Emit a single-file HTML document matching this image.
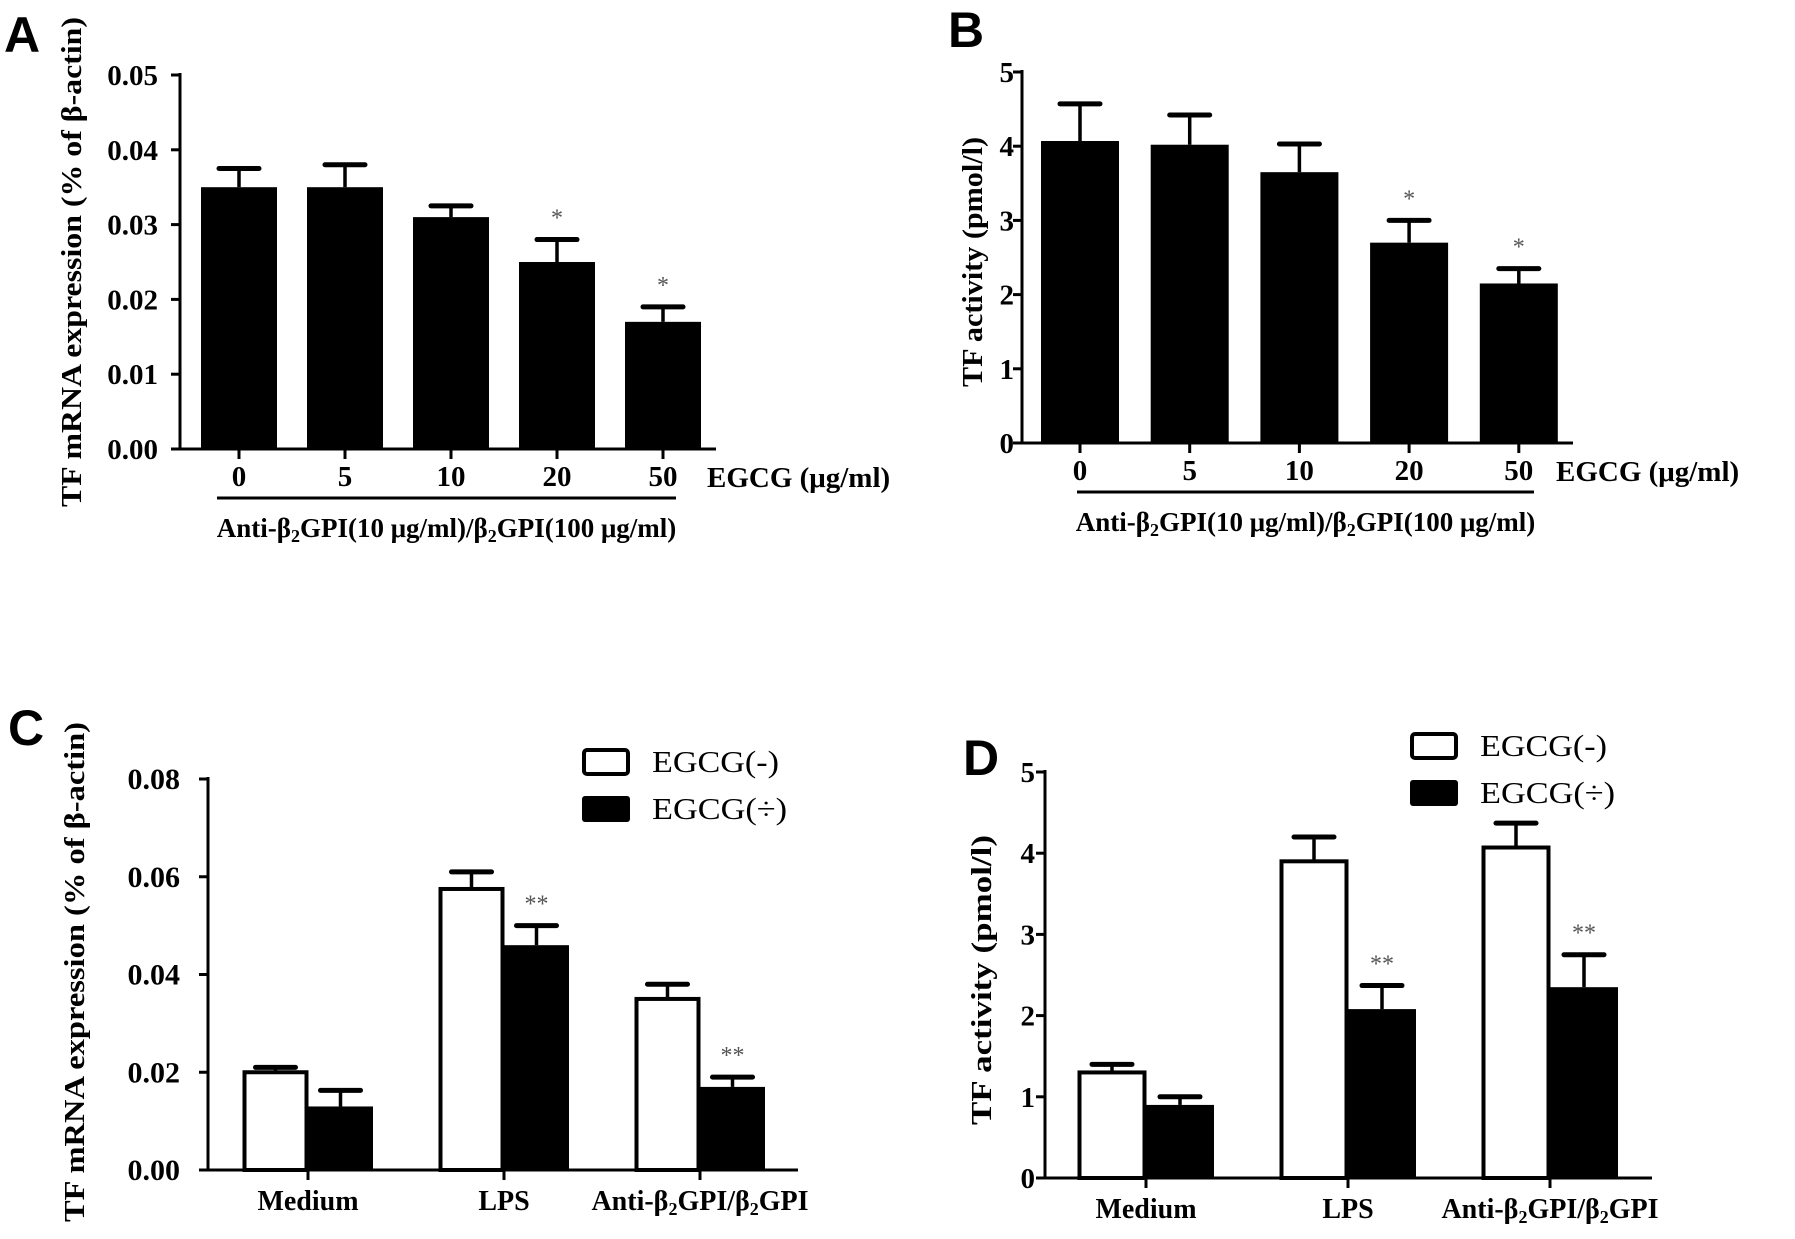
<!DOCTYPE html>
<html><head><meta charset="utf-8">
<style>
html,body{margin:0;padding:0;background:#fff;}
svg{display:block;}
text{font-family:"Liberation Serif",serif;}
</style></head>
<body>
<svg id="fig" width="1795" height="1239" viewBox="0 0 1795 1239" xmlns="http://www.w3.org/2000/svg">
<rect width="1795" height="1239" fill="#fff"/>
<g id="panelA"></g>
<g id="panelB"></g>
<g id="panelC"></g>
<g id="panelD"></g>
</svg>
<script>
// Panel A data
const catsA = ["0","5","10","20","50"];
const valsA = [0.035,0.035,0.031,0.025,0.017];
const errA = [0.0375,0.038,0.0325,0.028,0.019];
const sigA = ["","","","*","*"];
const ticksA = ["0.00","0.01","0.02","0.03","0.04","0.05"];
// Panel B data
const catsB = ["0","5","10","20","50"];
const valsB = [4.07,4.02,3.65,2.7,2.15];
const errB = [4.57,4.42,4.03,3.0,2.35];
const sigB = ["","","","*","*"];
const ticksB = ["0","1","2","3","4","5"];
// Panel C data
const groupsC = ["Medium","LPS","Anti-β₂GPI/β₂GPI"];
const negC = [0.020,0.0575,0.035];
const negErrC = [0.021,0.061,0.038];
const posC = [0.013,0.046,0.017];
const posErrC = [0.0163,0.050,0.019];
const sigC = ["","**","**"];
const ticksC = ["0.00","0.02","0.04","0.06","0.08"];
// Panel D data
const groupsD = ["Medium","LPS","Anti-β₂GPI/β₂GPI"];
const negD = [1.3,3.9,4.07];
const negErrD = [1.4,4.2,4.37];
const posD = [0.9,2.08,2.35];
const posErrD = [1.0,2.37,2.75];
const sigD = ["","**","**"];
const ticksD = ["0","1","2","3","4","5"];

const NS="http://www.w3.org/2000/svg";
function mk(parent,tag,attrs,txt){
  const e=document.createElementNS(NS,tag);
  for(const k in attrs)e.setAttribute(k,attrs[k]);
  if(txt!==undefined)e.textContent=txt;
  parent.appendChild(e);return e;
}
function scaleY(y0,y1,vmax){return v=>y0-(v/vmax)*(y0-y1);}

function axes(g,cfg){
  const ax=mk(g,'line',{x1:cfg.ax,y1:cfg.yTop-2,x2:cfg.ax,y2:cfg.y0+1.5,stroke:'#000','stroke-width':3});
  
  
  const bx=mk(g,'line',{x1:cfg.ax-1.5,y1:cfg.y0,x2:cfg.axEnd,y2:cfg.y0,stroke:'#000','stroke-width':3});
  
  
  const n=cfg.ticks.length;
  cfg.ticks.forEach((t,i)=>{
    const v=cfg.vmax*i/(n-1);const y=cfg.sy(v);
    const tk=mk(g,'line',{x1:cfg.ax-9,y1:y,x2:cfg.ax,y2:y,stroke:'#000','stroke-width':3});
    
    
    const tl=mk(g,'text',{x:cfg.ax-cfg.labOff,y:y+10,'text-anchor':'end','font-size':cfg.labFs,'font-weight':'bold'},t);
    
    
  });
}
function errbar(g,x,yTop,yBar){
  const l=mk(g,'line',{x1:x,y1:yTop,x2:x,y2:yBar,stroke:'#000','stroke-width':3.5});
  
  
  const c=mk(g,'line',{x1:x-20,y1:yTop,x2:x+20,y2:yTop,stroke:'#000','stroke-width':5,'stroke-linecap':'round'});
  
  
}
function star(g,x,y,s){
  if(!s)return;
  const t=mk(g,'text',{x:x,y:y,'text-anchor':'middle','font-size':24,fill:'#555'},s);
  
  
}
function label(g,name,txt,x,y){
  const t=mk(g,'text',{x:x,y:y,'font-size':50,'font-weight':'bold'},txt);
  
  
  t.setAttribute('style','font-family:"Liberation Sans",sans-serif');
}
function ytitle(g,txt,x,y,len){
  const t=mk(g,'text',{x:0,y:0,'text-anchor':'middle','font-size':28,'font-weight':'bold',transform:`translate(${x},${y}) rotate(-90)`,textLength:len,lengthAdjust:'spacingAndGlyphs'},txt);
  
  
}

function simplePanel(id,cfg,cats,vals,errs,sigs){
  const g=document.getElementById(id);
  axes(g,cfg);
  cats.forEach((c,i)=>{
    const cx=cfg.c0+i*cfg.pitch;
    const yb=cfg.sy(vals[i]);
    const b=mk(g,'rect',{x:cx-cfg.bw/2,y:yb,width:cfg.bw,height:cfg.y0-yb,fill:'#000'});
    
    
    const ye=cfg.sy(errs[i]);
    errbar(g,cx,ye,yb);
    star(g,cx,ye-14,sigs[i]);
    const tk=mk(g,'line',{x1:cx,y1:cfg.y0,x2:cx,y2:cfg.y0+10,stroke:'#000','stroke-width':3});
    
    
    const tl=mk(g,'text',{x:cx,y:cfg.y0+37,'text-anchor':'middle','font-size':29,'font-weight':'bold'},c);
    
    
  });
  const u=mk(g,'text',{x:cfg.unitX,y:cfg.y0+38,'font-size':29,'font-weight':'bold'},'EGCG (μg/ml)');
  
  
  const ln=mk(g,'line',{x1:cfg.lx1,y1:cfg.y0+49,x2:cfg.lx2,y2:cfg.y0+49,stroke:'#000','stroke-width':3});
  
  
  const bl=mk(g,'text',{x:(cfg.lx1+cfg.lx2)/2,y:cfg.y0+88,'text-anchor':'middle','font-size':27,'font-weight':'bold'});
  
  
  bl.innerHTML='Anti-β<tspan font-size="18" dy="5">2</tspan><tspan dy="-5">GPI(10 μg/ml)/β</tspan><tspan font-size="18" dy="5">2</tspan><tspan dy="-5">GPI(100 μg/ml)</tspan>';
}

function groupPanel(id,cfg,groups,neg,negE,pos,posE,sigs){
  const g=document.getElementById(id);
  axes(g,cfg);
  groups.forEach((name,i)=>{
    const cx=cfg.c0+i*cfg.pitch;
    const yn=cfg.sy(neg[i]);
    const b1=mk(g,'rect',{x:cx-cfg.bw+1.5,y:yn,width:cfg.bw-3,height:cfg.y0-yn,fill:'#fff',stroke:'#000','stroke-width':4});
    
    
    errbar(g,cx-cfg.bw/2,cfg.sy(negE[i]),yn);
    const yp=cfg.sy(pos[i]);
    const b2=mk(g,'rect',{x:cx,y:yp,width:cfg.bw,height:cfg.y0-yp,fill:'#000'});
    
    
    const ye=cfg.sy(posE[i]);
    errbar(g,cx+cfg.bw/2,ye,yp);
    star(g,cx+cfg.bw/2,ye-14,sigs[i]);
    const tk=mk(g,'line',{x1:cx,y1:cfg.y0,x2:cx,y2:cfg.y0+10,stroke:'#000','stroke-width':3});
    
    
    const tl=mk(g,'text',{x:cx,y:cfg.y0+40,'text-anchor':'middle','font-size':28,'font-weight':'bold'});
    
    
    if(name.indexOf('₂')>=0){
      tl.innerHTML='Anti-β<tspan font-size="18" dy="5">2</tspan><tspan dy="-5">GPI/β</tspan><tspan font-size="18" dy="5">2</tspan><tspan dy="-5">GPI</tspan>';
    } else tl.textContent=name;
  });
  const L=cfg.leg;
  const w=mk(g,'rect',{x:L.x,y:L.y,width:44,height:24,fill:'#fff',stroke:'#000','stroke-width':4,rx:3});
  
  
  const t1=mk(g,'text',{x:L.x+68,y:L.y+22,'font-size':31,textLength:127,lengthAdjust:'spacingAndGlyphs'},'EGCG(-)');
  
  
  const k=mk(g,'rect',{x:L.x-2,y:L.y+46,width:48,height:26,fill:'#000',rx:3});
  
  
  const t2=mk(g,'text',{x:L.x+68,y:L.y+69,'font-size':31,textLength:135,lengthAdjust:'spacingAndGlyphs'},'EGCG(÷)');
  
  
}

// Panel A
(function(){
  const cfg={ax:180,axEnd:716,y0:449,yTop:75,vmax:0.05,ticks:ticksA,labOff:22,labFs:29,c0:239,pitch:106,bw:76,unitX:707,lx1:217,lx2:676};
  cfg.sy=scaleY(cfg.y0,cfg.yTop,cfg.vmax);
  simplePanel('panelA',cfg,catsA,valsA,errA,sigA);
  const g=document.getElementById('panelA');
  label(g,'panel-label-a','A',4,52);
  ytitle(g,'TF mRNA expression (% of  β-actin)',81,262,490);
})();
// Panel B
(function(){
  const cfg={ax:1022,axEnd:1573,y0:443,yTop:72,vmax:5,ticks:ticksB,labOff:8,labFs:29,c0:1080,pitch:109.7,bw:78,unitX:1556,lx1:1077,lx2:1534};
  cfg.sy=scaleY(cfg.y0,cfg.yTop,cfg.vmax);
  simplePanel('panelB',cfg,catsB,valsB,errB,sigB);
  const g=document.getElementById('panelB');
  label(g,'panel-label-b','B',948,47);
  ytitle(g,'TF activity (pmol/l)',982,262,250);
})();
// Panel C
(function(){
  const cfg={ax:208,axEnd:798,y0:1170,yTop:779,vmax:0.08,ticks:ticksC,labOff:28,labFs:30,c0:308,pitch:196,bw:65,leg:{x:584,y:750}};
  cfg.sy=scaleY(cfg.y0,cfg.yTop,cfg.vmax);
  groupPanel('panelC',cfg,groupsC,negC,negErrC,posC,posErrC,sigC);
  const g=document.getElementById('panelC');
  label(g,'panel-label-c','C',8,745);
  ytitle(g,'TF mRNA expression (% of  β-actin)',84,972,500);
})();
// Panel D
(function(){
  const cfg={ax:1045,axEnd:1652,y0:1178,yTop:772,vmax:5,ticks:ticksD,labOff:10,labFs:29,c0:1146,pitch:202,bw:68,leg:{x:1412,y:734}};
  cfg.sy=scaleY(cfg.y0,cfg.yTop,cfg.vmax);
  groupPanel('panelD',cfg,groupsD,negD,negErrD,posD,posErrD,sigD);
  const g=document.getElementById('panelD');
  label(g,'panel-label-d','D',963,775);
  ytitle(g,'TF activity (pmol/l)',991,980,290);
})();
</script>
</body></html>
